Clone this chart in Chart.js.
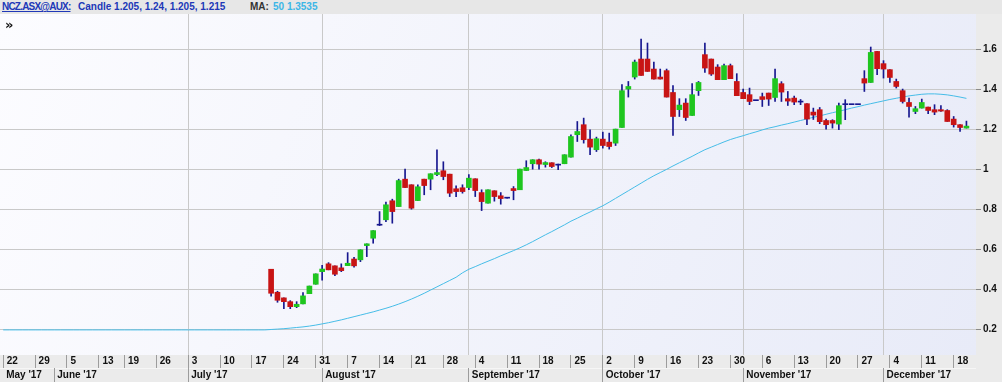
<!DOCTYPE html>
<html lang="en">
<head>
  <meta charset="UTF-8">
  <title>NCZ.ASX@AUX - Candle</title>
  <script src="https://cdn.jsdelivr.net/npm/chart.js"></script>
  <style>
    html, body { margin: 0; padding: 0; background: #ebebeb; }
    body { width: 1002px; height: 382px; position: relative; overflow: hidden; font-family: "Liberation Sans", Arial, sans-serif; }
    #header { position: absolute; left: 0; top: 0; width: 1002px; height: 14px; background: #e7e7e7; font-weight: bold; font-size: 10px; line-height: 14px; white-space: nowrap; }
    #header span { position: absolute; top: 0; }
    .sym { left: 2px; color: #2038b8; text-decoration: underline; letter-spacing: -0.8px; }
    .cnd { left: 78px; color: #2038b8; }
    .ma { left: 250px; color: #333; }
    .maval { left: 273px; color: #3cb6e6; }
    #wrap { position: absolute; left: 0; top: 14px; width: 1002px; height: 368px; }
    #more { position: absolute; left: 5px; top: 17px; font: bold 13px "DejaVu Sans"; color: #111; z-index: 2; }
  </style>
</head>
<body>

  <!-- quote line -->
  <div id="header">
    <span class="sym">NCZ.ASX@AUX:</span>
    <span class="cnd">Candle 1.205, 1.24, 1.205, 1.215</span>
    <span class="ma">MA:</span>
    <span class="maval">50 1.3535</span>
  </div>
  <div id="more">&raquo;</div>

  <div id="wrap"><canvas id="chart"></canvas></div>

  <script>
    // trading days (ASX), Queen's Birthday skipped
    const firstDay = '2017-05-22';
    const lastDay = '2017-12-21';
    const holidays = ['2017-06-12'];
    const monthNames = ['January', 'February', 'March', 'April', 'May', 'June', 'July',
      'August', 'September', 'October', 'November', 'December'];

    // candles start on listing day
    const firstCandle = '2017-07-20';
    const open = [
      0.50, 0.385, 0.357, 0.338, 0.313, 0.327, 0.378, 0.425, 0.488, 0.527,
      0.517, 0.507, 0.518, 0.551, 0.547, 0.618, 0.655, 0.72, 0.747, 0.842,
      0.813, 0.95, 0.922, 0.843, 0.95, 0.95, 0.973, 0.992, 0.975, 0.902,
      0.907, 0.908, 0.952, 0.883, 0.83, 0.892, 0.867, 0.855, 0.903, 0.897,
      0.993, 1.027, 1.047, 1.023, 1.032, 1.02, 1.027, 1.06, 1.172, 1.222,
      1.15, 1.097, 1.15, 1.135, 1.13, 1.208, 1.40, 1.46, 1.55, 1.55,
      1.50, 1.46, 1.492, 1.383, 1.297, 1.33, 1.268, 1.392, 1.572, 1.55,
      1.51, 1.447, 1.517, 1.438, 1.383, 1.372, 1.342, 1.362, 1.38, 1.358,
      1.427, 1.352, 1.355, 1.335, 1.327, 1.285, 1.297, 1.243, 1.243, 1.225,
      1.322, 1.322, 1.322, 1.452, 1.433, 1.588, 1.527, 1.497, 1.438, 1.392,
      1.333, 1.288, 1.305, 1.31, 1.297, 1.297, 1.293, 1.25, 1.222, 1.205
    ];
    const high = [
      0.50, 0.39, 0.357, 0.343, 0.338, 0.383, 0.416, 0.477, 0.52, 0.533,
      0.517, 0.527, 0.583, 0.56, 0.597, 0.627, 0.693, 0.788, 0.835, 0.85,
      0.95, 1.0, 0.922, 0.922, 0.95, 0.977, 1.097, 1.037, 0.975, 0.917,
      0.922, 0.973, 0.952, 0.897, 0.897, 0.892, 0.883, 0.855, 0.913, 1.0,
      1.042, 1.047, 1.05, 1.037, 1.032, 1.025, 1.072, 1.172, 1.238, 1.255,
      1.197, 1.16, 1.185, 1.18, 1.20, 1.422, 1.438, 1.545, 1.65, 1.63,
      1.535, 1.50, 1.50, 1.417, 1.352, 1.352, 1.427, 1.438, 1.63, 1.55,
      1.522, 1.525, 1.525, 1.477, 1.40, 1.405, 1.342, 1.38, 1.38, 1.50,
      1.437, 1.388, 1.365, 1.348, 1.327, 1.305, 1.308, 1.25, 1.247, 1.33,
      1.347, 1.322, 1.322, 1.492, 1.61, 1.588, 1.542, 1.497, 1.45, 1.40,
      1.355, 1.313, 1.35, 1.31, 1.322, 1.318, 1.297, 1.263, 1.222, 1.24
    ];
    const low = [
      0.365, 0.335, 0.303, 0.303, 0.308, 0.327, 0.378, 0.425, 0.445, 0.497,
      0.468, 0.488, 0.518, 0.51, 0.538, 0.563, 0.63, 0.718, 0.738, 0.73,
      0.813, 0.908, 0.80, 0.843, 0.872, 0.897, 0.968, 0.947, 0.863, 0.863,
      0.88, 0.897, 0.863, 0.793, 0.83, 0.84, 0.825, 0.855, 0.847, 0.897,
      0.993, 1.0, 1.0, 1.01, 1.008, 0.997, 1.027, 1.06, 1.138, 1.13,
      1.072, 1.088, 1.105, 1.10, 1.118, 1.208, 1.36, 1.45, 1.468, 1.488,
      1.45, 1.45, 1.36, 1.168, 1.263, 1.243, 1.268, 1.368, 1.483, 1.468,
      1.447, 1.447, 1.452, 1.367, 1.352, 1.322, 1.342, 1.313, 1.318, 1.338,
      1.338, 1.318, 1.322, 1.322, 1.222, 1.248, 1.227, 1.20, 1.205, 1.197,
      1.247, 1.322, 1.322, 1.388, 1.433, 1.472, 1.455, 1.433, 1.405, 1.33,
      1.26, 1.277, 1.305, 1.277, 1.272, 1.288, 1.238, 1.21, 1.188, 1.205
    ];
    const close = [
      0.38, 0.345, 0.338, 0.313, 0.325, 0.367, 0.416, 0.477, 0.501, 0.497,
      0.475, 0.493, 0.530, 0.517, 0.597, 0.627, 0.693, 0.72, 0.822, 0.788,
      0.943, 0.908, 0.805, 0.912, 0.918, 0.977, 0.983, 0.963, 0.88, 0.888,
      0.888, 0.955, 0.893, 0.838, 0.897, 0.863, 0.853, 0.855, 0.893, 1.0,
      1.008, 1.047, 1.025, 1.033, 1.013, 1.02, 1.072, 1.163, 1.188, 1.147,
      1.11, 1.152, 1.118, 1.113, 1.20, 1.392, 1.413, 1.535, 1.468, 1.488,
      1.45, 1.45, 1.36, 1.263, 1.32, 1.258, 1.372, 1.433, 1.505, 1.475,
      1.447, 1.517, 1.452, 1.367, 1.352, 1.338, 1.342, 1.348, 1.35, 1.452,
      1.385, 1.34, 1.335, 1.335, 1.25, 1.27, 1.237, 1.222, 1.23, 1.317,
      1.322, 1.322, 1.322, 1.43, 1.583, 1.502, 1.50, 1.458, 1.413, 1.338,
      1.313, 1.302, 1.333, 1.293, 1.285, 1.29, 1.238, 1.222, 1.208, 1.215
    ];

    // 50 day moving average, one value per trading day from firstDay
    const ma50 = [
      0.197, 0.197, 0.197, 0.197, 0.197, 0.197, 0.197, 0.197, 0.197, 0.197,
      0.197, 0.197, 0.197, 0.197, 0.197, 0.197, 0.197, 0.197, 0.197, 0.197,
      0.197, 0.197, 0.197, 0.197, 0.197, 0.197, 0.197, 0.197, 0.197, 0.197,
      0.197, 0.197, 0.197, 0.197, 0.197, 0.197, 0.197, 0.197, 0.197, 0.197,
      0.197, 0.197, 0.199, 0.201, 0.203, 0.206, 0.209, 0.212, 0.216, 0.221,
      0.227, 0.233, 0.240, 0.247, 0.255, 0.263, 0.271, 0.279, 0.287, 0.296,
      0.305, 0.315, 0.326, 0.338, 0.351, 0.365, 0.380, 0.396, 0.412, 0.428,
      0.444, 0.460, 0.482, 0.500, 0.513, 0.527, 0.540, 0.553, 0.567, 0.580,
      0.593, 0.607, 0.622, 0.638, 0.655, 0.672, 0.688, 0.705, 0.722, 0.740,
      0.755, 0.771, 0.786, 0.802, 0.817, 0.835, 0.854, 0.873, 0.892, 0.911,
      0.930, 0.949, 0.967, 0.983, 0.999, 1.016, 1.032, 1.048, 1.064, 1.081,
      1.097, 1.110, 1.123, 1.136, 1.148, 1.158, 1.167, 1.177, 1.186, 1.196,
      1.205, 1.212, 1.220, 1.227, 1.235, 1.243, 1.251, 1.259, 1.266, 1.274,
      1.282, 1.289, 1.297, 1.305, 1.312, 1.320, 1.327, 1.334, 1.341, 1.348,
      1.354, 1.360, 1.366, 1.370, 1.374, 1.376, 1.376, 1.374, 1.371, 1.366,
      1.360, 1.3535
    ];

    const yTicks = [0.2, 0.4, 0.6, 0.8, 1, 1.2, 1.4, 1.6];

    const upColor = '#1fc61f';
    const downColor = '#c81414';
    const wickColor = '#17178f';
    const maColor = '#46bde8';
    const gridColor = '#c9c9c9';
    const sepColor = '#9c9c9c';
    const none = 'rgba(0,0,0,0)';
    const axisFont = { family: '"Liberation Sans", Arial, sans-serif', weight: 'bold', size: 10 };

    // build the list of trading days
    const days = [];
    const end = new Date(lastDay + 'T00:00:00Z');
    for (let d = new Date(firstDay + 'T00:00:00Z'); d <= end; d.setUTCDate(d.getUTCDate() + 1)) {
      const iso = d.toISOString().slice(0, 10);
      const dow = d.getUTCDay();
      if (dow === 0 || dow === 6 || holidays.includes(iso)) continue;
      days.push(iso);
    }
    const dow = i => new Date(days[i] + 'T00:00:00Z').getUTCDay();
    const weekStart = i => i === 0 || dow(i) < dow(i - 1);
    const monthStart = i => i === 0 || days[i].slice(5, 7) !== days[i - 1].slice(5, 7);
    const gridMonth = i => monthStart(i) && days[i] >= '2017-07-01';

    const c0 = days.indexOf(firstCandle);
    const candle = i => {
      const k = i - c0;
      return (k >= 0 && k < open.length) ? k : -1;
    };
    const wickData = days.map((_, i) => { const k = candle(i); return k < 0 ? null : [low[k], high[k]]; });
    const bodyData = days.map((_, i) => {
      const k = candle(i);
      return k < 0 ? null : [Math.min(open[k], close[k]), Math.max(open[k], close[k])];
    });
    const bodyColors = days.map((_, i) => {
      const k = candle(i);
      if (k < 0) return none;
      return close[k] > open[k] ? upColor : (close[k] < open[k] ? downColor : wickColor);
    });
    const maData = days.map((_, i) => i < ma50.length ? ma50[i] : null);

    // plot background + bottom rows
    const plotBackground = {
      id: 'plotBackground',
      beforeDraw(chart) {
        const { ctx, chartArea: a } = chart;
        ctx.save();
        const g = ctx.createLinearGradient(a.left, a.top, a.right, a.bottom);
        g.addColorStop(0, '#fcfcff');
        g.addColorStop(1, '#e8ebf8');
        ctx.fillStyle = g;
        ctx.fillRect(a.left, a.top, a.width, a.height);
        const xm = chart.scales.xMonth;
        ctx.fillStyle = '#f6f6f6';
        ctx.fillRect(a.left, xm.top, a.width, 1);
        ctx.restore();
      }
    };

    new Chart(document.getElementById('chart'), {
      type: 'bar',
      data: {
        labels: days,
        datasets: [
          { type: 'line', label: 'MA 50', data: maData, borderColor: maColor, borderWidth: 1,
            pointRadius: 0, tension: 0, order: 3 },
          { label: 'Range', data: wickData, backgroundColor: wickColor, barThickness: 1,
            grouped: false, order: 2 },
          { label: 'Candle', data: bodyData, backgroundColor: bodyColors, barThickness: 5,
            minBarLength: 1, grouped: false, order: 1 }
        ]
      },
      options: {
        responsive: true,
        maintainAspectRatio: false,
        animation: false,
        layout: { padding: 0 },
        plugins: {
          legend: { display: false },
          tooltip: { enabled: false }
        },
        scales: {
          x: {
            type: 'category',
            position: 'bottom',
            offset: true,
            weight: 0,
            border: { display: false },
            grid: {
              offset: false,
              tickLength: 13,
              color: ctx => gridMonth(ctx.index) ? gridColor : none,
              tickColor: ctx => weekStart(ctx.index) ? sepColor : none
            },
            ticks: {
              autoSkip: false, maxRotation: 0, minRotation: 0,
              align: 'start', padding: -12.5, labelOffset: 3.5,
              color: '#111', font: axisFont,
              callback: (v, i) => weekStart(i) ? String(+days[i].slice(8)) : ''
            },
            afterFit: s => { s.height = 13; s.paddingLeft = 0; s.paddingRight = 0; }
          },
          xMonth: {
            type: 'category',
            position: 'bottom',
            offset: true,
            weight: 1,
            border: { display: false },
            grid: {
              offset: false,
              drawOnChartArea: false,
              tickLength: 14,
              tickColor: ctx => (ctx.index > 0 && monthStart(ctx.index)) ? sepColor : none
            },
            ticks: {
              autoSkip: false, maxRotation: 0, minRotation: 0,
              align: 'start', padding: -13, labelOffset: 3,
              color: '#111', font: axisFont,
              callback: (v, i) => monthStart(i) ? monthNames[+days[i].slice(5, 7) - 1] + " '17" : ''
            },
            afterFit: s => { s.height = 14; s.paddingLeft = 0; s.paddingRight = 0; }
          },
          y: {
            type: 'linear',
            position: 'right',
            min: 0.0716,
            max: 1.775,
            afterBuildTicks: s => { s.ticks = yTicks.map(v => ({ value: v })); },
            border: { display: false },
            grid: { color: gridColor, tickLength: 5, tickColor: '#8a8a8a' },
            ticks: {
              padding: 2, color: '#111',
              font: { family: '"Liberation Sans", Arial, sans-serif', weight: 'bold', size: 10 },
              callback: v => String(+v.toFixed(2))
            },
            afterFit: s => { s.width = 26; s.paddingTop = 0; s.paddingBottom = 0; }
          }
        }
      },
      plugins: [plotBackground]
    });
  </script>
</body>
</html>
